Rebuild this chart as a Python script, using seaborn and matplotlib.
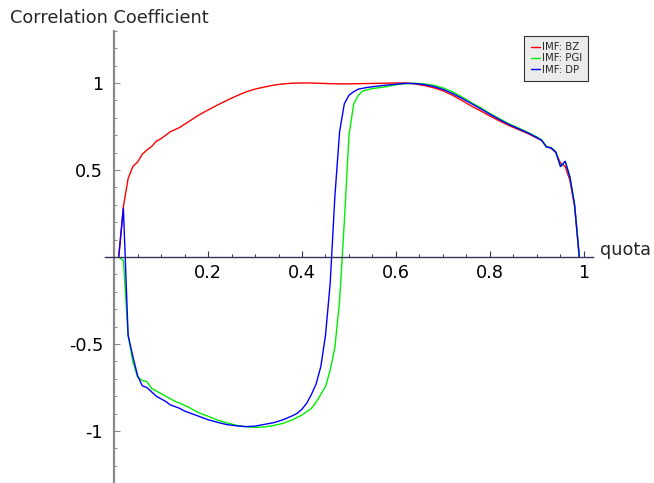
import numpy as np
import pandas as pd
import matplotlib
matplotlib.use("Agg")
import matplotlib.pyplot as plt
import seaborn as sns
from matplotlib.ticker import FixedLocator, FixedFormatter, MultipleLocator

# ---- data ----
bz_x = [0.01, 0.02, 0.03, 0.04, 0.05, 0.06, 0.07, 0.08, 0.09, 0.10, 0.11, 0.12,
        0.14, 0.16, 0.18, 0.20, 0.22, 0.24, 0.26, 0.28, 0.30, 0.32, 0.34, 0.36,
        0.38, 0.40, 0.42, 0.44, 0.46, 0.48, 0.50, 0.52, 0.54, 0.56, 0.58, 0.60,
        0.62, 0.64, 0.66, 0.68, 0.70, 0.72, 0.74, 0.76, 0.78, 0.80, 0.82, 0.84,
        0.86, 0.88, 0.90, 0.91, 0.92, 0.93, 0.94, 0.95, 0.96, 0.97, 0.98, 0.99]
bz_y = [0.0, 0.29, 0.45, 0.52, 0.545, 0.59, 0.615, 0.635, 0.665, 0.68, 0.70, 0.72,
        0.745, 0.78, 0.815, 0.845, 0.873, 0.90, 0.925, 0.948, 0.965, 0.977, 0.988, 0.995,
        0.999, 1.0, 1.0, 0.998, 0.996, 0.995, 0.995, 0.996, 0.997, 0.998, 0.999, 1.0,
        1.0, 0.995, 0.985, 0.973, 0.955, 0.93, 0.90, 0.868, 0.84, 0.81, 0.782, 0.756,
        0.733, 0.71, 0.683, 0.67, 0.635, 0.625, 0.60, 0.54, 0.52, 0.44, 0.29, 0.0]

pgi_x = [0.01, 0.02, 0.03, 0.04, 0.05, 0.06, 0.07, 0.08, 0.09, 0.10, 0.11, 0.12,
         0.13, 0.14, 0.16, 0.18, 0.20, 0.22, 0.24, 0.26, 0.28, 0.30, 0.32, 0.34,
         0.36, 0.38, 0.40, 0.42, 0.43, 0.44, 0.45, 0.46, 0.47, 0.48, 0.49, 0.50,
         0.51, 0.52, 0.53, 0.55, 0.58, 0.60, 0.62, 0.64, 0.66, 0.68, 0.70, 0.72,
         0.74, 0.76, 0.78, 0.80, 0.82, 0.84, 0.86, 0.88, 0.90, 0.91, 0.92, 0.93,
         0.94, 0.95, 0.96, 0.97, 0.98, 0.99]
pgi_y = [0.0, -0.02, -0.45, -0.60, -0.69, -0.71, -0.716, -0.755, -0.77, -0.785, -0.80, -0.815,
         -0.83, -0.84, -0.865, -0.895, -0.915, -0.937, -0.953, -0.967, -0.975, -0.979, -0.977, -0.968,
         -0.956, -0.935, -0.908, -0.87, -0.835, -0.79, -0.745, -0.65, -0.52, -0.25, 0.20, 0.70,
         0.88, 0.93, 0.955, 0.968, 0.979, 0.99, 0.996, 0.998, 0.995, 0.987, 0.972, 0.95,
         0.92, 0.888, 0.858, 0.825, 0.795, 0.766, 0.742, 0.717, 0.69, 0.672, 0.635, 0.628,
         0.605, 0.52, 0.55, 0.46, 0.30, 0.0]

dp_x = [0.01, 0.02, 0.03, 0.04, 0.05, 0.06, 0.07, 0.08, 0.09, 0.10, 0.11, 0.12,
        0.13, 0.14, 0.15, 0.16, 0.18, 0.20, 0.22, 0.24, 0.26, 0.28, 0.30, 0.32,
        0.34, 0.36, 0.38, 0.39, 0.40, 0.41, 0.42, 0.43, 0.44, 0.45, 0.46, 0.47,
        0.48, 0.49, 0.50, 0.51, 0.52, 0.54, 0.56, 0.58, 0.60, 0.62, 0.64, 0.66,
        0.68, 0.70, 0.72, 0.74, 0.76, 0.78, 0.80, 0.82, 0.84, 0.86, 0.88, 0.90,
        0.91, 0.92, 0.93, 0.94, 0.95, 0.96, 0.97, 0.98, 0.99]
dp_y = [0.0, 0.28, -0.45, -0.57, -0.68, -0.74, -0.75, -0.775, -0.80, -0.815, -0.83, -0.85,
        -0.86, -0.87, -0.885, -0.895, -0.915, -0.935, -0.95, -0.963, -0.97, -0.975, -0.972, -0.962,
        -0.952, -0.935, -0.912, -0.898, -0.875, -0.84, -0.79, -0.73, -0.63, -0.45, -0.15, 0.35,
        0.72, 0.88, 0.93, 0.95, 0.965, 0.975, 0.982, 0.988, 0.993, 0.998, 0.997, 0.991,
        0.98, 0.963, 0.94, 0.912, 0.882, 0.852, 0.82, 0.79, 0.762, 0.738, 0.714, 0.686,
        0.67, 0.632, 0.627, 0.603, 0.52, 0.55, 0.46, 0.30, 0.0]

series_names = ["IMF: BZ", "IMF: PGI", "IMF: DP"]
series_colors = ["#ff0000", "#00ee00", "#0000ff"]
x_ticks = [0.2, 0.4, 0.6, 0.8, 1.0]
x_labels = ["0.2", "0.4", "0.6", "0.8", "1"]
y_ticks = [-1.0, -0.5, 0.5, 1.0]
y_labels = ["-1", "-0.5", "0.5", "1"]

df = pd.concat([
    pd.DataFrame({"quota": bz_x, "corr": bz_y, "series": series_names[0]}),
    pd.DataFrame({"quota": pgi_x, "corr": pgi_y, "series": series_names[1]}),
    pd.DataFrame({"quota": dp_x, "corr": dp_y, "series": series_names[2]}),
], ignore_index=True)

sns.set_style("white")
plt.rcParams["font.family"] = ["DejaVu Sans"]
plt.rcParams["axes.unicode_minus"] = False

W, H = 654, 483
fig = plt.figure(figsize=(W / 100, H / 100), dpi=100)
x0, x1 = -0.02, 1.02
y0, y1 = -1.3, 1.3
left_px, right_px = 104.6, 593.4
top_px, bot_px = 30.8, 483.2
ax = fig.add_axes([left_px / W, 1 - bot_px / H, (right_px - left_px) / W, (bot_px - top_px) / H])
ax.set_facecolor("none")

sns.lineplot(data=df, x="quota", y="corr", hue="series", hue_order=series_names,
             palette=dict(zip(series_names, series_colors)), sort=False,
             estimator=None, linewidth=1.0, ax=ax, legend=True)

ax.set_xlim(x0, x1)
ax.set_ylim(y0, y1)
ax.set_xlabel("")
ax.set_ylabel("")

for s in ["top", "right"]:
    ax.spines[s].set_visible(False)
ax.spines["left"].set_position(("data", 0))
ax.spines["bottom"].set_position(("data", 0))
ax.spines["left"].set_color("#8a8a8a")
ax.spines["left"].set_linewidth(1.6)
ax.spines["bottom"].set_color("#33335a")
ax.spines["bottom"].set_linewidth(1.0)

ax.xaxis.set_major_locator(FixedLocator(x_ticks))
ax.xaxis.set_major_formatter(FixedFormatter(x_labels))
ax.xaxis.set_minor_locator(MultipleLocator(0.05))
ax.yaxis.set_major_locator(FixedLocator(y_ticks))
ax.yaxis.set_major_formatter(FixedFormatter(y_labels))
ax.yaxis.set_minor_locator(MultipleLocator(0.1))

ax.tick_params(axis="x", which="both", direction="in", colors="#33335a", labelcolor="black",
               labelsize=12.7, pad=5)
ax.tick_params(axis="y", which="both", direction="in", colors="#8a8a8a", labelcolor="black",
               labelsize=12.7, pad=8)
ax.tick_params(which="major", length=4, width=0.8)
ax.tick_params(which="minor", length=2.5, width=0.7)
ax.tick_params(axis="x", which="both", bottom=True)
ax.tick_params(axis="y", which="both", left=True)

fig.text(10 / W, 1 - 18 / H, "Correlation Coefficient", fontsize=12.7, ha="left", va="center")
fig.text(600 / W, 1 - 250 / H, "quota", fontsize=12.7, ha="left", va="center")

leg = ax.legend(loc="upper right", bbox_to_anchor=(588 / W, 1 - 36 / H), bbox_transform=fig.transFigure,
                fontsize=7.3, handlelength=0.9, handletextpad=0.2, borderpad=0.6,
                labelspacing=0.12, frameon=True, fancybox=False, framealpha=1,
                borderaxespad=0)
leg.get_frame().set_facecolor("#ebebeb")
leg.get_frame().set_edgecolor("#333333")
leg.get_frame().set_linewidth(0.8)
for line in leg.get_lines():
    line.set_linewidth(1.0)

fig.savefig("out.png", dpi=100)
